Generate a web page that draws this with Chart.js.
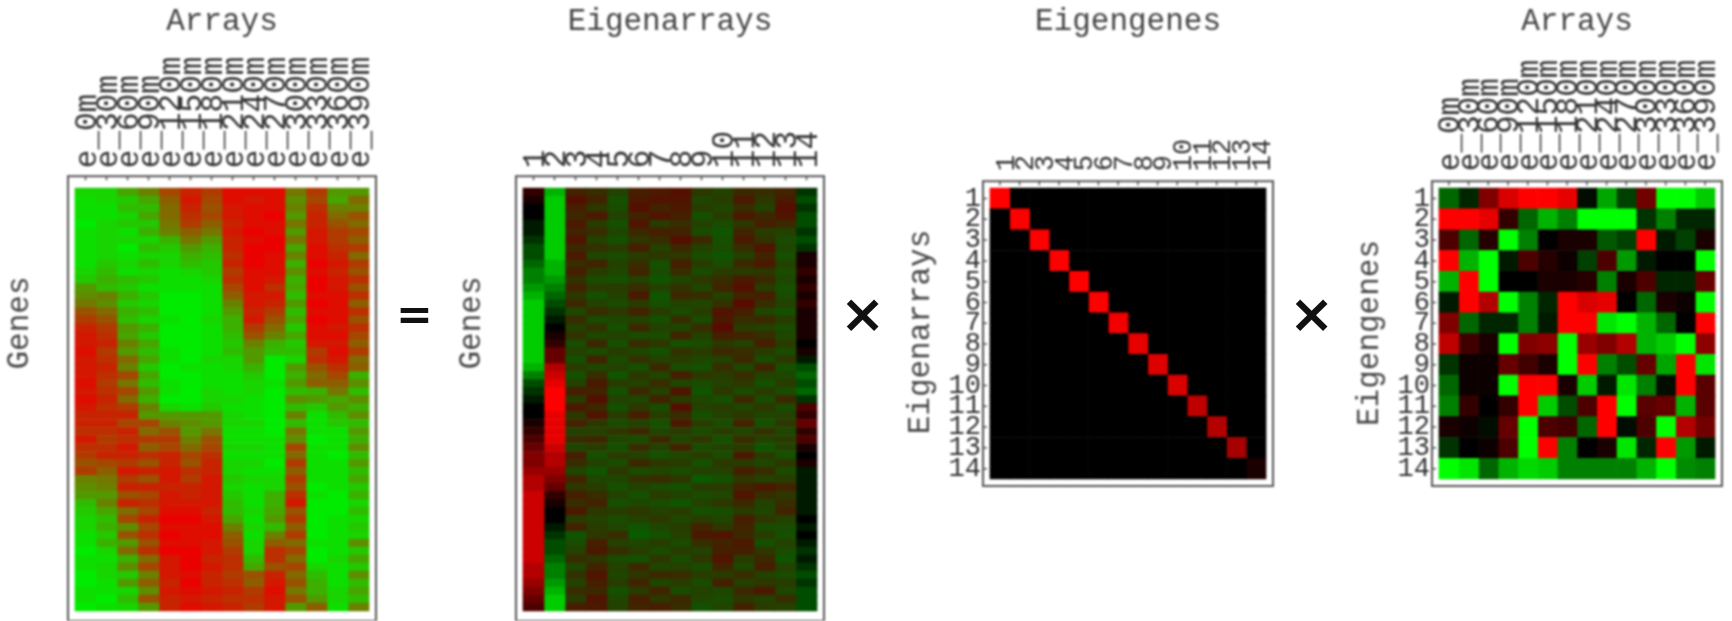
<!DOCTYPE html>
<html>
<head>
<meta charset="utf-8">
<title>Arrays = Eigenarrays x Eigengenes x Arrays</title>
<script src="https://cdn.jsdelivr.net/npm/chart.js@4/dist/chart.umd.min.js"></script>
<style>
    html, body { margin: 0; background: #fff; overflow: hidden; }
    canvas { position: absolute; top: 0; filter: blur(0.8px); }
    .op { position: absolute; font-family: "DejaVu Sans"; font-weight: bold; color: #111; filter: blur(0.6px); }
</style>
</head>
<body>
<canvas id="arraysChart" width="400" height="621" style="left:0"></canvas>
<canvas id="eigenarraysChart" width="400" height="621" style="left:440px"></canvas>
<canvas id="eigengenesChart" width="445" height="621" style="left:840px"></canvas>
<canvas id="loadingsChart" width="392" height="621" style="left:1340px"></canvas>
<div class="op" style="left:396px;top:288px;font-size:44px">=</div>
<div class="op" style="left:840px;top:282px;font-size:54px">×</div>
<div class="op" style="left:1289px;top:282px;font-size:54px">×</div>
<script>
// Tick labels
const arrayLabels = ['e_0m', 'e_30m', 'e_60m', 'e_90m', 'e_120m', 'e_150m', 'e_180m',
    'e_210m', 'e_240m', 'e_270m', 'e_300m', 'e_330m', 'e_360m', 'e_390m'];
const modeLabels = ['1', '2', '3', '4', '5', '6', '7', '8', '9', '10', '11', '12', '13', '14'];

// Values, -10 (green) to 10 (red). Genes are binned into 53 rows.
const geneExpression = [
    [-8,-8,-4,-1,4,7,5,9,9,9,0,5,-3,-3],
    [-9,-8,-7,-4,2,8,4,9,8,9,-2,4,-4,1],
    [-9,-9,-6,-6,1,7,3,8,9,9,-1,6,-1,-1],
    [-9,-9,-8,-4,1,6,4,8,9,10,-3,7,1,3],
    [-10,-8,-7,-7,0,5,2,7,9,9,0,7,3,1],
    [-9,-8,-9,-5,-1,2,0,8,10,9,-3,8,5,4],
    [-9,-8,-8,-8,-5,0,-3,7,9,10,0,8,5,2],
    [-9,-8,-10,-6,-7,-3,-5,7,10,10,-4,9,6,5],
    [-9,-8,-9,-8,-8,-5,-6,6,10,9,-1,9,7,1],
    [-9,-7,-8,-6,-8,-6,-7,7,10,9,-5,10,8,5],
    [-8,-6,-9,-8,-9,-8,-7,5,9,9,-2,9,7,3],
    [-7,-5,-6,-7,-9,-9,-8,6,9,8,-5,10,8,6],
    [-3,-6,-7,-9,-9,-9,-9,4,9,6,-4,10,8,3],
    [-2,-1,-5,-7,-10,-10,-9,2,8,8,-6,9,9,6],
    [0,-2,-7,-8,-10,-10,-9,-1,8,7,-3,10,9,2],
    [3,1,-5,-6,-10,-10,-9,-3,7,5,-6,9,9,6],
    [5,3,-6,-8,-9,-10,-8,-5,8,3,-4,10,9,3],
    [7,5,-3,-5,-10,-10,-9,-5,5,1,-7,9,8,6],
    [8,6,-4,-7,-10,-10,-9,-6,3,-1,-4,9,9,4],
    [8,7,-1,-4,-10,-10,-9,-7,-1,-5,-7,8,8,2],
    [9,5,-3,-6,-9,-10,-9,-6,-3,-6,-6,5,9,5],
    [8,6,1,-4,-9,-10,-8,-8,-3,-10,-8,6,8,1],
    [8,7,-1,-7,-10,-9,-9,-8,-5,-10,-3,3,6,2],
    [8,6,4,-4,-10,-10,-9,-9,-7,-10,-5,1,4,-5],
    [9,5,0,-6,-9,-10,-9,-9,-8,-9,-3,2,2,-2],
    [8,6,4,-3,-9,-10,-8,-9,-8,-10,-6,-5,0,-6],
    [9,7,1,-5,-10,-10,-8,-8,-9,-10,-2,-3,-4,-2],
    [8,6,5,-1,-8,-9,-7,-9,-9,-10,-6,-7,-3,-5],
    [7,7,7,-3,-3,-3,-3,-8,-9,-10,-1,-9,-6,-2],
    [7,7,4,4,-1,-2,-3,-8,-8,-10,-6,-9,-7,-6],
    [6,6,7,1,3,-3,0,-9,-9,-10,0,-9,-9,-3],
    [8,5,6,5,5,-1,3,-9,-9,-9,-2,-10,-9,-5],
    [6,6,8,2,4,1,4,-8,-8,-9,4,-9,-9,-2],
    [5,7,7,6,7,4,6,-9,-9,-9,1,-9,-10,-6],
    [3,4,5,3,7,3,7,-8,-8,-10,5,-9,-9,-3],
    [5,2,8,7,8,6,7,-8,-9,-9,2,-9,-9,-6],
    [-1,0,5,3,8,5,8,-7,-8,-8,5,-9,-9,-4],
    [-2,-1,7,7,7,7,8,-8,-9,-8,3,-10,-9,-7],
    [-3,-3,3,4,8,7,8,-7,-9,-5,6,-9,-10,-5],
    [-6,-1,7,6,8,8,8,-6,-9,-5,8,-10,-10,-8],
    [-7,-4,1,4,9,9,7,-6,-8,-4,3,-10,-10,-6],
    [-8,-6,4,7,10,10,8,-4,-9,-3,5,-10,-9,-8],
    [-8,-5,-2,4,9,9,9,-1,-8,-6,2,-10,-9,-7],
    [-9,-7,3,6,10,9,9,2,-9,-1,5,-10,-9,-8],
    [-9,-5,-3,3,9,9,8,3,-8,2,1,-9,-9,-2],
    [-10,-8,1,6,10,10,8,5,-8,6,4,-10,-9,-7],
    [-9,-9,-5,1,8,10,7,6,-6,6,1,-10,-8,-4],
    [-9,-8,-2,4,8,10,8,6,-4,3,4,-8,-9,-7],
    [-10,-8,-7,-1,8,9,7,5,3,7,1,-6,-9,-2],
    [-10,-9,-3,2,7,10,7,6,2,8,3,-5,-9,-6],
    [-9,-9,-8,-2,8,9,8,7,5,9,0,-5,-8,-4],
    [-9,-10,-6,3,7,8,7,6,6,8,3,-3,-8,-6],
    [-10,-9,-8,-3,7,9,8,7,5,8,-3,2,-9,-1]
];

// Eigenarray columns 1, 2 and 14, black at zero
const eigenarray1 = [2,1,0,0,-1,-1,-2,-3,-3,-4,-5,-5,-6,-7,-8,-8,-8,-8,-8,-8,-8,-8,-7,-5,
    -3,-2,-1,0,0,1,2,3,4,5,5,6,7,7,8,8,8,8,8,8,8,8,8,7,7,6,5,4,3];
const eigenarray2 = [-7,-8,-8,-8,-8,-8,-8,-8,-8,-7,-7,-6,-5,-4,-3,-2,-1,0,1,2,4,4,7,8,
    9,10,10,10,9,9,9,9,8,7,7,6,5,4,2,1,0,0,-1,-2,-3,-3,-4,-5,-5,-6,-7,-8,-8];
const eigenarray14 = [-2,-3,-2,-3,-3,-2,-3,-2,1,1,2,1,2,1,2,1,1,1,1,0,1,-1,-3,-4,
    -3,-4,-2,3,2,4,2,3,1,0,1,-1,-1,-1,-1,-1,-1,0,-1,0,-1,-2,-1,-2,-3,-2,-3,-3,-3];

// Eigenarray columns 3 to 13, dim red/green streaks
const eigenarrayRest = [
    [3,1,-3,4,5,7,-1,-3,2,1,3],
    [7,3,-6,5,6,6,-4,-2,5,-1,5],
    [4,-1,-5,7,3,5,-2,-4,1,-3,7],
    [2,5,-3,3,6,4,-6,-2,5,2,6],
    [5,-2,-6,6,-2,1,-3,-5,-1,4,2],
    [3,1,-4,2,4,3,-5,-7,3,-2,-3],
    [6,-3,-6,-1,1,7,2,-6,5,0,-5],
    [2,0,-2,4,-3,2,-3,-5,1,6,-4],
    [5,-4,-5,-2,-1,-1,-5,-7,-3,3,-6],
    [1,3,-3,1,-6,4,-2,-5,2,5,-3],
    [4,-2,-4,3,-5,1,-5,-2,-2,-1,-5],
    [0,-5,-6,-3,-7,-4,-1,1,5,2,-4],
    [3,-2,-2,1,-3,0,-4,3,7,-2,-6],
    [-1,-6,-3,5,-7,2,1,-3,3,4,-5],
    [2,-3,-5,-2,-6,-3,-4,0,8,1,-3],
    [-4,1,-1,3,-2,-5,-2,6,4,-4,-6],
    [1,-5,-4,-3,-6,1,-5,5,1,2,-2],
    [-3,0,-6,2,-3,-4,1,8,-2,-3,-5],
    [0,-4,-3,-5,-5,3,-3,4,3,1,-4],
    [-5,2,-6,1,-1,-6,-5,-1,-3,4,-2],
    [-3,-5,-2,-4,-6,0,-2,2,1,-2,-5],
    [-6,3,-5,0,-3,-2,-4,-3,2,-5,-1],
    [-2,-4,-3,-6,2,-5,-6,1,-4,3,-6],
    [-6,1,-7,-1,-4,4,-1,-2,1,-3,-4],
    [-3,5,-2,-3,1,-4,-5,-3,-1,-6,-2],
    [4,3,-6,2,-3,6,-7,-1,-5,-2,-5],
    [-2,7,-3,-4,3,-2,-4,-6,2,-5,2],
    [5,2,-6,-1,-5,7,-3,-2,-4,-1,-5],
    [-1,6,-2,4,-2,1,-6,-3,-1,-4,-3],
    [3,-1,-5,-3,-6,5,-2,-5,3,-6,-1],
    [-3,-3,-1,2,-4,-2,-5,-2,-4,0,-4],
    [1,2,-4,-5,2,-4,-1,-6,1,-3,-2],
    [-4,-2,-6,1,-3,3,-5,-3,-2,-7,-3],
    [4,-6,-2,-3,-6,-4,-2,-5,5,-2,-6],
    [1,-3,-5,2,-1,-2,-6,-1,-2,-4,-1],
    [-4,-7,-1,-5,-4,-5,-3,-3,4,1,-5],
    [3,-4,-4,0,1,-1,-8,-6,-1,-3,-2],
    [-1,-2,-6,-3,-5,-6,-2,-2,3,5,3],
    [4,1,-3,-6,-2,-3,-5,-4,6,1,-1],
    [1,3,-6,-4,-5,-7,-3,-1,2,-3,1],
    [5,-1,-2,-1,-3,-2,-6,-5,-2,-4,3],
    [-2,-3,-5,-3,-1,-4,-2,-4,4,-1,-3],
    [3,-2,-4,-7,-4,-2,3,-1,3,-5,-5],
    [-7,-1,1,-8,-6,-3,5,6,2,-2,-6],
    [-5,4,-3,-4,-2,-5,1,3,5,-6,-3],
    [-3,5,1,-2,-5,-2,-3,4,4,-1,-5],
    [1,-1,-5,-6,-1,-5,-1,6,-2,2,-7],
    [-4,3,-3,2,-4,-3,-5,3,-4,4,-3],
    [0,6,-4,-1,2,1,-2,-2,1,-3,-5],
    [-3,4,-2,3,-4,-2,-5,4,-3,-1,-2],
    [1,2,-6,-2,3,-5,-3,-4,2,5,-4],
    [-2,6,-4,4,-1,2,-4,-5,-1,-3,1],
    [4,5,-3,3,4,1,-6,-4,3,-2,-3]
];

// Diagonal of the eigengene matrix
const singularValues = [10, 10, 10, 10, 10, 10, 9.5, 9, 8.7, 8.5, 7.5, 7, 6.5, 1];

// Eigengenes by arrays
const eigengeneLoadings = [
    [-4,-1.5,5,8.5,10,10,9,-0.5,-6.5,-2.5,4.5,-10,-10,-8],
    [10,10,9,2,-4,-7,-5,-10,-10,-10,-2,-5,-1.5,-1.5],
    [3,-4,1.5,-10,-5,0,1,1,-3.5,-2.5,10,-1,-2.5,1],
    [10,-7,-10,-1,3,1.5,0.5,-2.5,3,-6,-1,0,0,-10],
    [-7,10,-10,0,0,1,1,1.5,-5,1,3,-1.5,-1.5,4],
    [-1,10,7,-10,-5,-1.5,10,8.5,9,0,-4,1,0.5,-10],
    [5,-4,-1.5,-1.5,-5,-1,10,10,-9,-10,-7,-4,0,10],
    [7.5,2.5,1,-10,5,5.5,-10,6,5,7,-7,-8,-10,5.5],
    [-2,0.5,0.5,4,2.5,1,-10,10,-5,-3,4,-6.5,10,-9],
    [-4,0.5,0.5,-10,10,10,1,-8,-1,-9,-5,-0.5,10,3.5],
    [-5,2,0,2,10,-8,-3,3,10,-10,3.5,4,-7,3.5],
    [1,0.5,-0.5,4,-10,3,2.5,-4,10,-0.5,3,-10,7,4.5],
    [-2,0,0.5,3,-10,10,-5,0,1,-9,-1.5,10,-6,-1],
    [-10,-9,-4,-7,-8.5,-8,-5,-5,-5,-5,-7,-10,-5.5,-5]
];

const MONO = '"Liberation Mono", monospace';

// Red above zero, green below, black at zero
function signedColor(v) {
    const level = Math.round(Math.abs(v) * 25.5);
    return v >= 0 ? `rgb(${level},0,0)` : `rgb(0,${level},0)`;
}

// Straight blend from green to red, scaled by peak
function blendColor(v, peak) {
    const t = (v + 10) / 20;
    return `rgb(${Math.round(t * peak)},${Math.round((1 - t) * peak)},0)`;
}

// Frame with inward tick marks, and the rotated side label
const panelDecor = {
    id: 'panelDecor',
    afterDraw(chart, args, opts) {
        const { ctx, chartArea: a, scales } = chart;
        ctx.save();
        ctx.strokeStyle = '#555';
        ctx.lineWidth = 2;
        ctx.strokeRect(a.left, a.top, a.right - a.left, a.bottom - a.top);
        ctx.lineWidth = 1.5;
        ctx.beginPath();
        scales.x.ticks.forEach((tick, i) => {
            const px = scales.x.getPixelForTick(i);
            ctx.moveTo(px, a.top);
            ctx.lineTo(px, a.top + 4);
        });
        if (opts.leftTicks) {
            scales.y.ticks.forEach((tick, i) => {
                const py = scales.y.getPixelForTick(i);
                ctx.moveTo(a.left, py);
                ctx.lineTo(a.left + 4, py);
            });
        }
        ctx.stroke();
        ctx.translate(opts.labelX, opts.labelY);
        ctx.rotate(-Math.PI / 2);
        ctx.font = `31px ${MONO}`;
        ctx.fillStyle = '#444';
        ctx.textAlign = 'center';
        ctx.textBaseline = 'middle';
        ctx.fillText(opts.label, 0, 0);
        ctx.restore();
    }
};

// One dataset per column, one floating bar per row
function columnDatasets(rows, colorOf) {
    const columns = rows[0].length;
    const datasets = [];
    for (let c = 0; c < columns; c++) {
        datasets.push({
            data: rows.map((row, r) => ({ x: [c, c + 1], y: r + 0.5 })),
            backgroundColor: rows.map(row => colorOf(row[c], c))
        });
    }
    return datasets;
}

function drawPanel(cfg) {
    const rowCount = cfg.rows.length;
    const columnCount = cfg.rows[0].length;
    const tickAxis = (labels, padding) => ({
        autoSkip: false,
        padding: padding,
        color: '#333',
        font: { family: MONO, size: labels === cfg.yTicks ? 27 : 31 },
        callback: (value, i) => labels[i]
    });
    const midTicks = labels => scale => {
        scale.ticks = labels.map((_, i) => ({ value: i + 0.5 }));
    };
    const grid = { display: false, drawTicks: false };

    return new Chart(document.getElementById(cfg.id), {
        type: 'bar',
        data: { datasets: columnDatasets(cfg.rows, cfg.colorOf) },
        options: {
            responsive: false,
            animation: false,
            indexAxis: 'y',
            grouped: false,
            categoryPercentage: 1,
            barPercentage: 1,
            layout: { autoPadding: false, padding: { right: cfg.padRight, bottom: cfg.padBottom } },
            datasets: { bar: { borderWidth: 0 } },
            scales: {
                x: {
                    type: 'linear',
                    position: 'top',
                    min: -cfg.marginX,
                    max: columnCount + cfg.marginX,
                    afterBuildTicks: midTicks(cfg.xTicks),
                    afterFit: scale => { scale.height = 125; },
                    grid: grid,
                    border: { display: false },
                    ticks: { ...tickAxis(cfg.xTicks, cfg.xPad), minRotation: 90, maxRotation: 90, labelOffset: 39 }
                },
                y: {
                    type: 'linear',
                    reverse: true,
                    offset: false,
                    min: -cfg.marginTop,
                    max: rowCount + cfg.marginBottom,
                    afterBuildTicks: midTicks(cfg.yTicks),
                    afterFit: scale => { scale.width = cfg.axisWidth; },
                    grid: grid,
                    border: { display: false },
                    ticks: cfg.yTicks.length ? tickAxis(cfg.yTicks, 2) : { display: false }
                }
            },
            plugins: {
                legend: { display: false },
                tooltip: { enabled: false },
                title: {
                    display: true,
                    text: cfg.title,
                    fullSize: false,
                    color: '#444',
                    font: { family: MONO, size: 31, weight: 'normal' },
                    padding: { top: 3, bottom: cfg.titleGap }
                },
                panelDecor: {
                    label: cfg.label,
                    labelX: cfg.labelX,
                    labelY: cfg.labelY,
                    leftTicks: cfg.yTicks.length > 0
                }
            }
        },
        plugins: [panelDecor]
    });
}

// Join the hand-read eigenarray columns back into rows
const eigenarrayRows = eigenarray1.map((v, r) =>
    [v, eigenarray2[r], ...eigenarrayRest[r], eigenarray14[r]]);

// Full matrix with the singular values on its diagonal
const singularRows = singularValues.map((_, r) =>
    singularValues.map((v, c) => (r === c ? v : 0)));

drawPanel({
    id: 'arraysChart', title: 'Arrays', label: 'Genes', labelX: 20, labelY: 323,
    rows: geneExpression, colorOf: v => blendColor(v, 235),
    xTicks: arrayLabels, yTicks: [], xPad: 8,
    axisWidth: 68, padRight: 24, padBottom: 0, titleGap: 11,
    marginX: 1 / 3, marginTop: 1.5, marginBottom: 1.25
});
drawPanel({
    id: 'eigenarraysChart', title: 'Eigenarrays', label: 'Genes', labelX: 32, labelY: 323,
    rows: eigenarrayRows,
    colorOf: (v, c) => (c < 2 || c === 13 ? signedColor(v) : blendColor(v, 100)),
    xTicks: modeLabels, yTicks: [], xPad: 8,
    axisWidth: 76, padRight: 16, padBottom: 0, titleGap: 11,
    marginX: 1 / 3, marginTop: 1.5, marginBottom: 1.25
});
drawPanel({
    id: 'eigengenesChart', title: 'Eigengenes', label: 'Eigenarrays', labelX: 81, labelY: 332,
    rows: singularRows, colorOf: v => signedColor(v),
    xTicks: modeLabels, yTicks: modeLabels, xPad: 10,
    axisWidth: 143, padRight: 12, padBottom: 135, titleGap: 16,
    marginX: 0.355, marginTop: 0.336, marginBottom: 0.336
});
drawPanel({
    id: 'loadingsChart', title: 'Arrays', label: 'Eigengenes', labelX: 30, labelY: 333,
    rows: eigengeneLoadings, colorOf: v => signedColor(v),
    xTicks: arrayLabels, yTicks: modeLabels, xPad: 10,
    axisWidth: 92, padRight: 10, padBottom: 135, titleGap: 16,
    marginX: 0.355, marginTop: 0.336, marginBottom: 0.336
});
</script>
</body>
</html>
